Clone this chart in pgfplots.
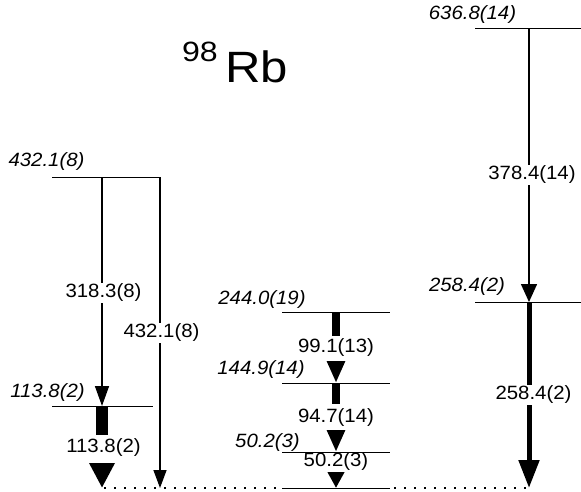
\documentclass[border=0pt]{standalone}
\usepackage{pgfplots}
\pgfplotsset{compat=1.18}
\usepackage{fontspec}
\setmainfont{Liberation Sans}
\usetikzlibrary{arrows.meta}
\tikzset{
  lab/.style={font=\fontsize{19.3}{21}\selectfont, xscale=1.06, inner sep=1bp},
  elab/.style={lab, font=\fontsize{19.3}{21}\selectfont\itshape},
  glab/.style={lab, fill=white},
  level/.style={black, line width=1bp, line cap=butt},
  thin/.style={black, line width=1.5bp},
}
\begin{document}
\begin{tikzpicture}
\begin{axis}[hide axis, scale only axis, width=581bp, height=492bp,
  xmin=0, xmax=581, ymin=0, ymax=492, y dir=reverse, clip=false]
% levels
\addplot[level] coordinates {(52,177) (160,177)};
\addplot[level] coordinates {(52,406) (153,406)};
\addplot[level] coordinates {(282,312) (390,312)};
\addplot[level] coordinates {(282,383) (390,383)};
\addplot[level] coordinates {(282,452) (390,452)};
\addplot[level] coordinates {(282,488) (390,488)};
\addplot[level] coordinates {(475,29) (581,29)};
\addplot[level] coordinates {(475,302) (581,302)};
% ground dotted
\addplot[black, line width=1.4bp, dash pattern=on 2bp off 8bp] coordinates {(104,488) (282,488)};
\addplot[black, line width=1.4bp, dash pattern=on 2bp off 8bp] coordinates {(394,488) (528,488)};
% thin transitions
\addplot[thin, -{Triangle[width=14bp,length=20bp]}] coordinates {(102,177) (102,406)};
\addplot[thin, -{Triangle[width=13bp,length=18bp]}] coordinates {(160,177) (160,488)};
\addplot[thin, -{Triangle[width=16bp,length=18bp]}] coordinates {(529,29) (529,302)};
% thick 258.4
\addplot[black, line width=5bp, -{Triangle[width=20bp,length=28bp]}] coordinates {(529,302) (529,488)};
% 113.8
\addplot[black, line width=12.5bp, line cap=butt] coordinates {(102,406) (102,435)};
\addplot[black, line width=12.5bp, -{Triangle[width=24bp,length=25bp]}] coordinates {(102,463) (102,488)};
% 99.1
\addplot[black, line width=8bp, line cap=butt] coordinates {(336,312) (336,336)};
\addplot[black, line width=8bp, -{Triangle[width=17bp,length=22bp]}] coordinates {(336,361) (336,383)};
% 94.7
\addplot[black, line width=8bp, line cap=butt] coordinates {(336,383) (336,404)};
\addplot[black, line width=8bp, -{Triangle[width=17bp,length=22bp]}] coordinates {(336,430) (336,452)};
% 50.2
\addplot[black, line width=6bp, -{Triangle[width=16bp,length=16bp]}] coordinates {(336,472) (336,488)};
% level labels
\node[elab] at (axis cs:46.5,162) {432.1(8)};
\node[elab] at (axis cs:47.5,393) {113.8(2)};
\node[elab] at (axis cs:262,300) {244.0(19)};
\node[elab] at (axis cs:261,370) {144.9(14)};
\node[elab] at (axis cs:267.5,443) {50.2(3)};
\node[elab] at (axis cs:472.5,15) {636.8(14)};
\node[elab] at (axis cs:467,287) {258.4(2)};
% gamma labels
\node[glab] at (axis cs:103.5,293) {318.3(8)};
\node[glab] at (axis cs:161.5,333) {432.1(8)};
\node[lab] at (axis cs:103.5,448) {113.8(2)};
\node[lab] at (axis cs:336,348) {99.1(13)};
\node[lab] at (axis cs:336,418) {94.7(14)};
\node[lab] at (axis cs:336,462) {50.2(3)};
\node[glab] at (axis cs:532,175) {378.4(14)};
\node[glab] at (axis cs:533.5,395) {258.4(2)};
% title
\node[font=\fontsize{28}{30}\selectfont, xscale=1.15, inner sep=0pt, anchor=base] at (axis cs:200,62) {98};
\node[font=\fontsize{44}{46}\selectfont, xscale=1.12, inner sep=0pt, anchor=base west] at (axis cs:225,83) {Rb};
\end{axis}
\pgfresetboundingbox
\useasboundingbox (0,0) rectangle (581bp,492bp);
\end{tikzpicture}
\end{document}
